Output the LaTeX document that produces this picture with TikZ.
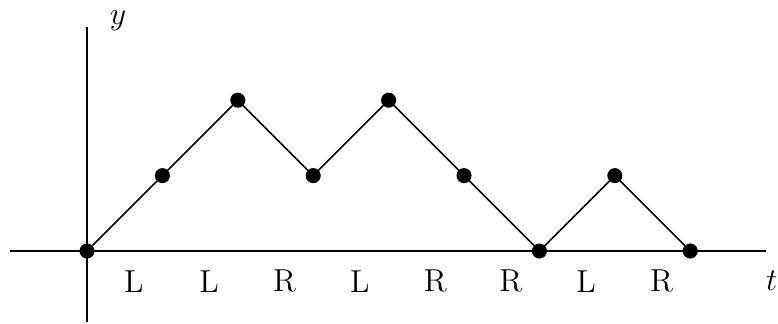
\documentclass[tikz,border=0pt]{standalone}
\usepackage{tikz}
\usetikzlibrary{positioning}

\begin{document}
\begin{tikzpicture}[
    every node/.style={font=\large},
    pt/.style={circle, fill=black, minimum size=2mm, inner sep=0pt},
    ax/.style={line width=0.8pt},
    pth/.style={line width=0.6pt},
    mv/.style={inner sep=0pt},
  ]
  \useasboundingbox (-1.154, -0.955) rectangle (9.164, 3.329);
  % axes
  \coordinate (xl) at (-1.02, 0);
  \coordinate (xr) at (9.00, 0);
  \coordinate (yb) at (0, -0.94);
  \coordinate (yt) at (0, 2.97);
  \draw[ax] (xl) -- (xr);
  \draw[ax] (yb) -- (yt);
  \node[mv] (ylab) at (0.41, 3.06) {$y$};
  \node[mv] (tlab) at (9.08, -0.40) {$t$};
  % walk
  \node[pt] (p0) at (0, 0) {};
  \node[pt] (p1) at (1, 1) {};
  \node[pt] (p2) at (2, 2) {};
  \node[pt] (p3) at (3, 1) {};
  \node[pt] (p4) at (4, 2) {};
  \node[pt] (p5) at (5, 1) {};
  \node[pt] (p6) at (6, 0) {};
  \node[pt] (p7) at (7, 1) {};
  \node[pt] (p8) at (8, 0) {};
  \draw[pth] (p0.center) -- (p1.center) -- (p2.center) -- (p3.center) -- (p4.center)
    -- (p5.center) -- (p6.center) -- (p7.center) -- (p8.center);
  % moves
  \foreach \s [count=\i from 0] in {L,L,R,L,R,R,L,R}
    \node[mv] (m\i) at (\i+0.62, -0.40) {\s};
\end{tikzpicture}
\end{document}
